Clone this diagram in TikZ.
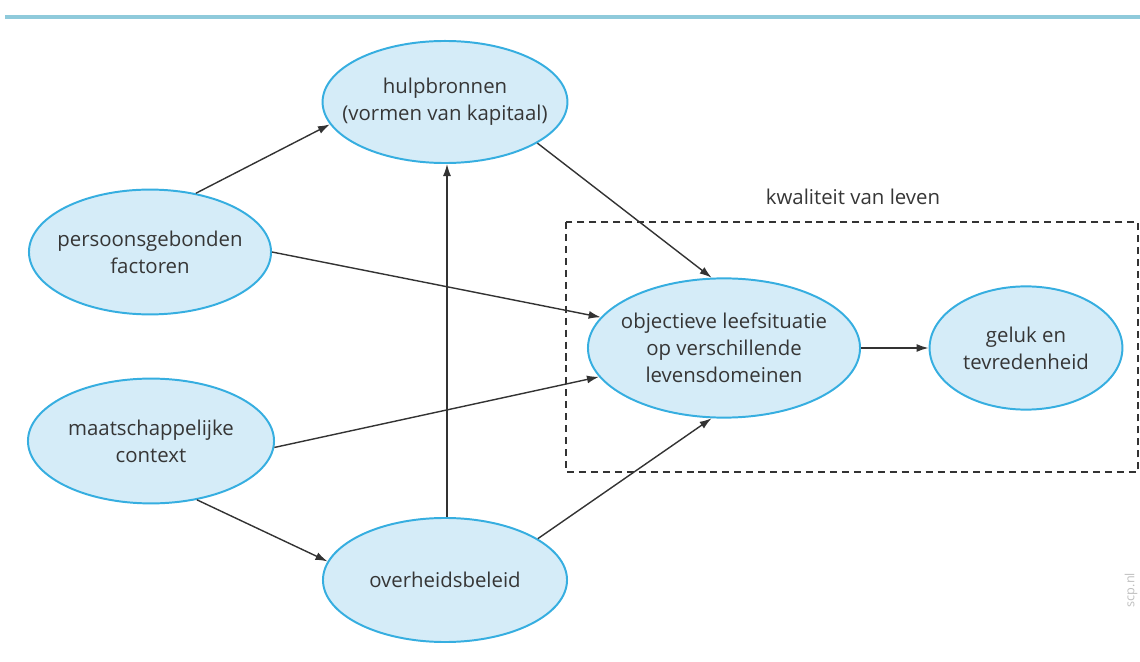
\documentclass[tikz,border=0pt]{standalone}
\usepackage{fontspec}
\setmainfont{Open Sans}
\usetikzlibrary{arrows.meta, shapes.geometric, positioning}
\definecolor{bubblefill}{HTML}{D5ECF8}
\definecolor{bubbleline}{HTML}{36AEE0}
\definecolor{inktext}{HTML}{363636}
\definecolor{topline}{HTML}{8FCADB}

\begin{document}
\begin{tikzpicture}[x=0.025cm, y=-0.025cm, >=Latex,
    bubble/.style={draw=bubbleline, fill=bubblefill, ellipse, line width=1.4pt,
      inner xsep=-0.8cm, inner ysep=-0.3cm, align=center, text=inktext,
      font=\fontsize{14.5}{19}\selectfont},
    link/.style={->, line width=1pt, draw=black!80,
      arrows={-Latex[length=3mm, width=2mm]}}]
  \useasboundingbox (0,0) rectangle (1140,662);

  % Header rule
  \draw[topline, line width=3pt] (5,17) -- (1140,17);

  % Quality of life frame
  \draw[black!80, line width=1.4pt, dash pattern=on 5pt off 3.5pt]
    (566,222) rectangle (1138,472);
  \node[text=inktext, font=\fontsize{14.5}{17}\selectfont] (kwal) at (853,197)
    {kwaliteit van leven};

  % Nodes
  \node[bubble, minimum width=6.12cm, minimum height=3.05cm]
    (hulp) at (445,102) {hulpbronnen\\(vormen van kapitaal)};
  \node[bubble, minimum width=6.05cm, minimum height=3.12cm]
    (pers) at (150,252) {persoonsgebonden\\factoren};
  \node[bubble, minimum width=6.15cm, minimum height=3.12cm]
    (maat) at (151,441) {maatschappelijke\\context};
  \node[bubble, minimum width=6.1cm, minimum height=3.1cm]
    (over) at (445,580) {overheidsbeleid};
  \node[bubble, minimum width=6.8cm, minimum height=3.48cm]
    (obj) at (724,348) {objectieve leefsituatie\\op verschillende\\levensdomeinen};
  \node[bubble, minimum width=4.82cm, minimum height=3.08cm]
    (geluk) at (1026,348) {geluk en\\tevredenheid};

  % Connectors
  \draw[link] (pers.52) -- (hulp.191);
  \draw[link] (hulp.336) -- (obj.100);
  \draw[link] (pers.0) -- (obj.166);
  \draw[link] (maat.357) -- (obj.193);
  \draw[link] (maat.308) -- (over.171);
  \draw[link] ([xshift=0.05cm]over.north) -- ([xshift=0.05cm]hulp.south);
  \draw[link] (over.24) -- (obj.260);
  \draw[link] (obj.east) -- (geluk.west);

  % Source mark
  \node[rotate=90, text=black!25, font=\fontsize{9}{10}\selectfont]
    (bron) at (1131,590) {scp.nl};
\end{tikzpicture}
\end{document}
